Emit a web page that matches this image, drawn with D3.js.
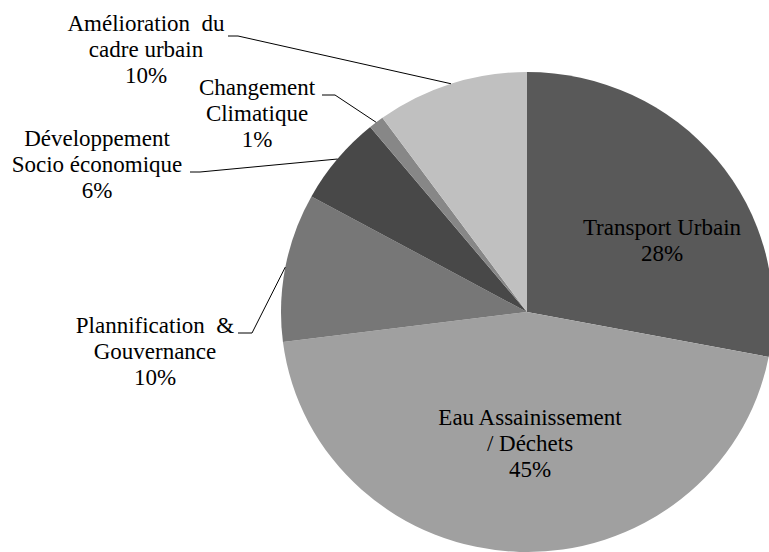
<!DOCTYPE html>
<html>
<head>
<meta charset="utf-8">
<script src="https://cdn.jsdelivr.net/npm/d3@7"></script>
<style>
    body { margin: 0; }
    svg text { font-family: "Times New Roman", "Liberation Serif", Tinos, serif; font-size: 23px; }
</style>
</head>
<body>
<script>
// data
var categories = ["Transport Urbain", "Eau Assainissement / Déchets", "Plannification & Gouvernance",
    "Développement Socio économique", "Changement Climatique", "Amélioration du cadre urbain"];
var values = [28, 45, 10, 6, 1, 10];
var labelLines = [
    ["Transport Urbain"],
    ["Eau Assainissement", "/ Déchets"],
    ["Plannification\u00a0 &", "Gouvernance"],
    ["Développement", "Socio économique"],
    ["Changement", "Climatique"],
    ["Amélioration\u00a0 du", "cadre urbain"]
];
var colors = ["#595959", "#a0a0a0", "#777777", "#484848", "#878787", "#c0c0c0"];

// label placement (center x, first baseline, leader start / elbow)
var labelPos = [
    { x: 662, y: 235 },
    { x: 530, y: 425 },
    { x: 155, y: 333, lx: 238, ly: 333, ex: 252 },
    { x: 97, y: 146, lx: 190, ly: 172, ex: 200 },
    { x: 257, y: 95, lx: 322, ly: 95, ex: 335 },
    { x: 146, y: 31, lx: 228, ly: 36, ex: 238 }
];

var width = 769, height = 552,
    cx = 527, cy = 312,
    radius = 240, sx = 246 / 240,
    lineH = 26;

var svg = d3.select("body")
    .append("svg")
    .attr("width", width)
    .attr("height", height);

var pie = d3.pie()
    .sort(null)
    .value(function (d) { return d; });

var arcs = pie(values);

var arc = d3.arc()
    .outerRadius(radius)
    .innerRadius(0);

var g = svg.append("g")
    .attr("transform", "translate(" + cx + "," + cy + ") scale(" + sx + ",1)");

g.selectAll("path")
    .data(arcs)
    .enter().append("path")
    .attr("d", arc)
    .attr("fill", function (d, i) { return colors[i]; });

// leader lines
arcs.forEach(function (d, i) {
    var p = labelPos[i];
    if (p.lx === undefined) return;
    var a = (d.startAngle + d.endAngle) / 2;
    var tx = cx + Math.sin(a) * radius * sx,
        ty = cy - Math.cos(a) * radius;
    svg.append("polyline")
        .attr("points", [[p.lx, p.ly], [p.ex, p.ly], [tx, ty]].map(function (q) { return q.join(","); }).join(" "))
        .attr("fill", "none")
        .attr("stroke", "#000")
        .attr("stroke-width", 1);
});

// labels, one text per line
arcs.forEach(function (d, i) {
    var p = labelPos[i];
    var lines = labelLines[i].concat([values[i] + "%"]);
    lines.forEach(function (s, k) {
        svg.append("text")
            .attr("x", p.x)
            .attr("y", p.y + k * lineH)
            .attr("text-anchor", "middle")
            .attr("fill", "#000")
            .text(s);
    });
});
</script>
</body>
</html>
